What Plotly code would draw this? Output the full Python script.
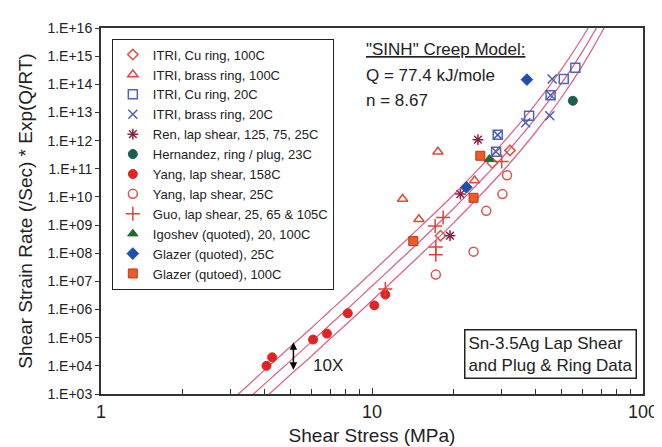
import plotly.graph_objects as go

# SINH creep model band: fit line and the 10X band edges
fit_stress = [3, 3.5, 4, 5, 6, 7, 8, 10, 12, 15, 20, 25, 30, 40, 50, 60, 70, 80]
fit_mid = [1.8e2, 6.8e2, 2.2e3, 1.5e4, 7.4e4, 2.9e5, 9.3e5, 6.8e6, 3.5e7, 2.6e8,
           3.9e9, 3.5e10, 2.3e11, 6.0e12, 1.07e14, 1.55e15, 2.0e16, 2.6e17]
fit_upper = [5.6e2, 2.1e3, 6.9e3, 4.8e4, 2.3e5, 9.1e5, 2.9e6, 2.1e7, 1.1e8, 8.3e8,
             1.2e10, 1.1e11, 7.2e11, 1.9e13, 3.4e14, 4.9e15, 6.4e16, 8.0e17]
fit_lower = [5.6e1, 2.1e2, 6.9e2, 4.8e3, 2.3e4, 9.1e4, 2.9e5, 2.1e6, 1.1e7, 8.3e7,
             1.2e9, 1.1e10, 7.2e10, 1.9e12, 3.4e13, 4.9e14, 6.4e15, 8.0e16]

# data sets: (stress MPa, normalised strain rate)
itri_cu_100_x = [32.3, 27.8, 17.9]
itri_cu_100_y = [4.5e11, 1.6e11, 4.2e8]
itri_brass_100_x = [17.5, 23.9, 12.97, 14.9]
itri_brass_100_y = [4.0e11, 3.8e10, 8.4e9, 1.6e9]
itri_cu_20_x = [56.3, 51.0, 45.6, 38.0, 29.1, 28.7]
itri_cu_20_y = [3.9e14, 1.55e14, 4.1e13, 7.7e12, 1.6e12, 4.0e11]
itri_brass_20_x = [46.2, 45.6, 36.9, 45.3, 29.1, 28.7]
itri_brass_20_y = [1.55e14, 4.1e13, 4.3e12, 7.7e12, 1.6e12, 4.0e11]
ren_x = [24.6, 21.2, 19.4]
ren_y = [1.08e12, 1.26e10, 4.2e8]
hernandez_x = [55.1]
hernandez_y = [2.6e13]
yang_158_x = [4.08, 4.28, 6.06, 6.82, 8.14, 10.2, 11.2]
yang_158_y = [1.0e4, 2.0e4, 8.6e4, 1.4e5, 7.4e5, 1.4e6, 3.4e6]
yang_25_x = [31.5, 30.3, 26.4, 23.7, 17.2]
yang_25_y = [5.9e10, 1.26e10, 3.2e9, 1.14e8, 1.74e7]
guo_x = [30.1, 18.3, 17.1, 17.2, 17.2, 11.2]
guo_y = [1.8e11, 1.85e9, 9.3e8, 1.66e8, 8.8e7, 5.4e6]
igoshev_x = [27.1]
igoshev_y = [2.2e11]
glazer_25_x = [37.3, 22.3]
glazer_25_y = [1.47e14, 2.2e10]
glazer_100_x = [25.1, 23.7, 14.2]
glazer_100_y = [2.9e11, 9.3e9, 2.7e8]

y_tick_vals = [1e3, 1e4, 1e5, 1e6, 1e7, 1e8, 1e9, 1e10, 1e11, 1e12, 1e13, 1e14, 1e15, 1e16]
y_tick_text = ['1.E+03', '1.E+04', '1.E+05', '1.E+06', '1.E+07', '1.E+08', '1.E+09',
               '1.E+10', '1.E+11', '1.E+12', '1.E+13', '1.E+14', '1.E+15', '1.E+16']
x_tick_vals = [1, 10, 100]
x_tick_text = ['1', '10', '100']
x_minor_vals = [2, 3, 4, 5, 6, 7, 8, 9, 20, 30, 40, 50, 60, 70, 80, 90]

FONT = 'Arial, Liberation Sans, sans-serif'
LINE_COLOR = '#d8668f'

fig = go.Figure()

# model lines first so the markers sit on top
for ys in (fit_upper, fit_mid, fit_lower):
    fig.add_trace(go.Scatter(x=fit_stress, y=ys, mode='lines', showlegend=False,
                             hoverinfo='skip', line=dict(color=LINE_COLOR, width=1.3, shape='spline')))

series = [
    ('ITRI, Cu ring, 100C', itri_cu_100_x, itri_cu_100_y, 'diamond-open', '#d9534f', 8, None),
    ('ITRI, brass ring, 100C', itri_brass_100_x, itri_brass_100_y, 'triangle-up-open', '#e0483e', 9, None),
    ('ITRI, Cu ring, 20C', itri_cu_20_x, itri_cu_20_y, 'square-open', '#4d66b8', 9, None),
    ('ITRI, brass ring, 20C', itri_brass_20_x, itri_brass_20_y, 'x-thin-open', '#4d5fb0', 9, None),
    ('Ren, lap shear, 125, 75, 25C', ren_x, ren_y, 'asterisk-open', '#8e2447', 9, None),
    ('Hernandez, ring / plug, 23C', hernandez_x, hernandez_y, 'circle', '#1d5e52', 9, None),
    ('Yang, lap shear, 158C', yang_158_x, yang_158_y, 'circle', '#e02424', 9, None),
    ('Yang, lap shear, 25C', yang_25_x, yang_25_y, 'circle-open', '#d9534f', 9, None),
    ('Guo, lap shear, 25, 65 & 105C', guo_x, guo_y, 'cross-thin-open', '#e0403a', 10, None),
    ('Igoshev (quoted), 20, 100C', igoshev_x, igoshev_y, 'triangle-up', '#1b6b2c', 9, None),
    ('Glazer (quoted), 25C', glazer_25_x, glazer_25_y, 'diamond', '#1f4fb0', 9, None),
    ('Glazer (qutoed), 100C', glazer_100_x, glazer_100_y, 'square', '#f05a28', 9, '#b8381a'),
]

for name, xs, ys, sym, col, size, edge in series:
    if sym.endswith('open'):
        marker = dict(symbol=sym, size=size, color=col, line=dict(color=col, width=1.5))
    else:
        marker = dict(symbol=sym, size=size, color=col, line=dict(color=edge or col, width=1))
    fig.add_trace(go.Scatter(x=xs, y=ys, mode='markers', name=name, marker=marker))

fig.update_layout(
    width=662, height=447,
    margin=dict(l=93, r=22, t=16, b=55),
    plot_bgcolor='white', paper_bgcolor='white',
    font=dict(family=FONT, color='#222', size=14),
    legend=dict(x=0.02, y=0.971, xanchor='left', yanchor='top',
                bgcolor='white', bordercolor='#222', borderwidth=1,
                font=dict(size=13, family=FONT), tracegroupgap=0, itemwidth=30),
    xaxis=dict(type='log', range=[0, 2], showgrid=False, zeroline=False,
               showline=True, linecolor='#333', linewidth=2, mirror=True,
               tickvals=x_tick_vals, ticktext=x_tick_text, ticks='inside', ticklen=6,
               tickcolor='#333', tickfont=dict(size=18),
               minor=dict(tickvals=x_minor_vals, ticks='inside', ticklen=5, tickcolor='#333', showgrid=False),
               title=dict(text='Shear Stress (MPa)', font=dict(size=19), standoff=8)),
    yaxis=dict(type='log', range=[3, 16], showgrid=False, zeroline=False,
               showline=True, linecolor='#333', linewidth=2, mirror=True,
               tickvals=y_tick_vals, ticktext=y_tick_text, ticks='outside', ticklen=4,
               tickcolor='#333', tickfont=dict(size=14),
               title=dict(text='Shear Strain Rate (/Sec) * Exp(Q/RT)', font=dict(size=19), standoff=10)),
)

# model text, top right
fig.add_annotation(xref='paper', yref='paper', x=0.485, y=0.942, xanchor='left', yanchor='middle',
                   text='"SINH" Creep Model:', showarrow=False,
                   font=dict(size=17, family=FONT, color='#222', lineposition='under'))
fig.add_annotation(xref='paper', yref='paper', x=0.485, y=0.870, xanchor='left', yanchor='middle',
                   text='Q = 77.4 kJ/mole', showarrow=False, font=dict(size=17, family=FONT, color='#222'))
fig.add_annotation(xref='paper', yref='paper', x=0.485, y=0.803, xanchor='left', yanchor='middle',
                   text='n = 8.67', showarrow=False, font=dict(size=17, family=FONT, color='#222'))

# boxed label, bottom right
fig.add_annotation(xref='paper', yref='paper', x=0.989, y=0.041, xanchor='right', yanchor='bottom',
                   text='Sn-3.5Ag Lap Shear<br>and Plug & Ring Data', showarrow=False, align='left',
                   bordercolor='#222', borderwidth=1.5, borderpad=3, bgcolor='white',
                   font=dict(size=17, family=FONT, color='#222'))

# 10X double arrow
fig.add_annotation(xref='paper', yref='paper', x=0.355, y=0.066, ax=0, ay=-29,
                   text='', showarrow=True, arrowhead=2, arrowside='end+start',
                   arrowsize=1, arrowwidth=1.5, arrowcolor='black')
fig.add_annotation(xref='paper', yref='paper', x=0.418, y=0.077, xanchor='center', yanchor='middle',
                   text='10X', showarrow=False, font=dict(size=17, family=FONT, color='#222'))

fig.write_html("out.html")
